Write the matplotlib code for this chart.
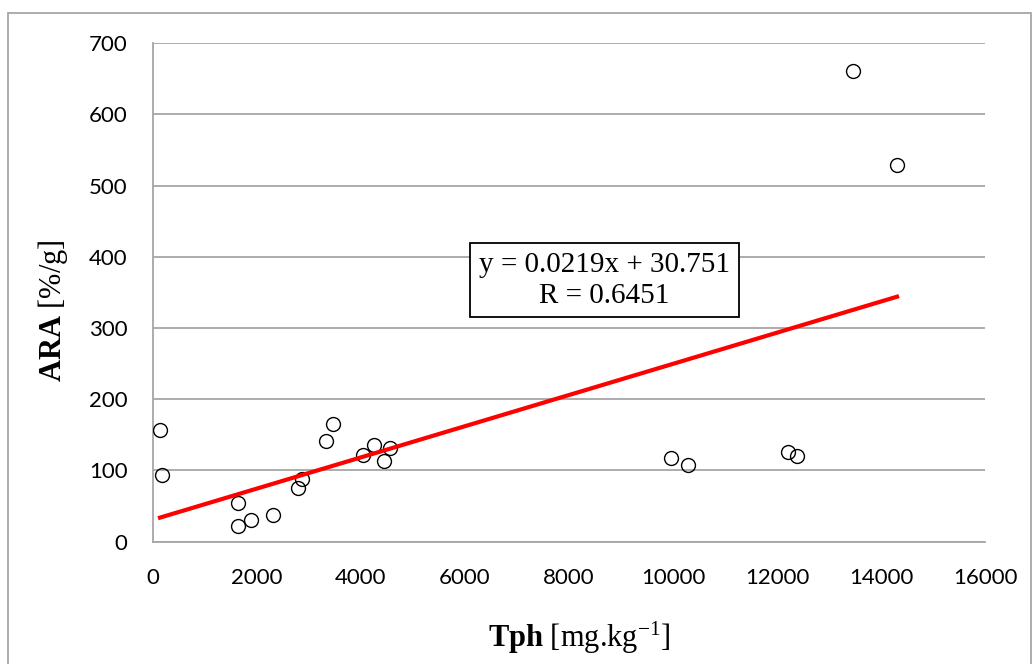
import matplotlib.pyplot as plt
from matplotlib.patches import Rectangle

# data
tph = [140, 173, 1635, 1635, 1890, 2308, 2800, 2877, 3327, 3462,
       4050, 4256, 4454, 4563, 9967, 10288, 12212, 12385, 13454, 14308]
ara = [157, 93, 54, 22, 31, 37, 75, 88, 141, 165,
       122, 136, 113, 131, 118, 108, 126, 121, 661, 529]
slope = 0.0219
intercept = 30.751
r_value = 0.6451

x_ticks = [0, 2000, 4000, 6000, 8000, 10000, 12000, 14000, 16000]
y_ticks = [0, 100, 200, 300, 400, 500, 600, 700]

plt.rcParams['mathtext.fontset'] = 'custom'
plt.rcParams['mathtext.rm'] = 'Liberation Serif'
plt.rcParams['mathtext.bf'] = 'Liberation Serif:bold'
plt.rcParams['mathtext.it'] = 'Liberation Serif:italic'

fig = plt.figure(figsize=(10.32, 6.64), dpi=100)
ax = fig.add_axes([0.148, 0.1842, 0.8065, 0.7506])

ax.set_xlim(0, 16000)
ax.set_ylim(0, 700)
ax.set_xticks(x_ticks)
ax.set_yticks(y_ticks)
ax.tick_params(length=0, labelsize=16)
ax.tick_params(axis='y', pad=18)
ax.tick_params(axis='x', pad=19)
for lab in ax.get_xticklabels() + ax.get_yticklabels():
    lab.set_fontfamily('Lato')

ax.grid(axis='y', color='#a6a6a6', linewidth=1.3)
ax.set_axisbelow(True)
for side in ['top', 'right']:
    ax.spines[side].set_visible(False)
for side in ['left', 'bottom']:
    ax.spines[side].set_color('#a6a6a6')
    ax.spines[side].set_linewidth(1.3)

ax.plot(tph, ara, 'o', markersize=10, markerfacecolor='none',
        markeredgecolor='black', markeredgewidth=1.0, zorder=3)

x_fit = [min(tph), max(tph)]
y_fit = [slope * v + intercept for v in x_fit]
ax.plot(x_fit, y_fit, color='#ff0000', linewidth=3, zorder=4)

ax.text(0.5425, 0.525, "y = %.4fx + %.3f\nR = %.4f" % (slope, intercept, r_value),
        transform=ax.transAxes, ha='center', va='center', fontsize=21,
        family='Liberation Serif', linespacing=1.25, zorder=5,
        bbox=dict(boxstyle='square,pad=0.3', facecolor='white',
                  edgecolor='black', linewidth=1.3))

ax.set_xlabel(r"$\mathbf{Tph}$ [mg.kg$^{-1}$]", fontsize=22,
              family='Liberation Serif', labelpad=23)
ax.xaxis.label.set_x(0.512)
ax.set_ylabel(r"$\mathbf{ARA}$ [%/g]", fontsize=22,
              family='Liberation Serif', labelpad=14)
ax.yaxis.label.set_y(0.464)

fig.patches.append(Rectangle((8 / 1032, -0.01), 1023 / 1032, 1 - 13 / 664 + 0.01,
                             transform=fig.transFigure, fill=False,
                             edgecolor='#a6a6a6', linewidth=1.3))

fig.savefig('out.png', dpi=100)
